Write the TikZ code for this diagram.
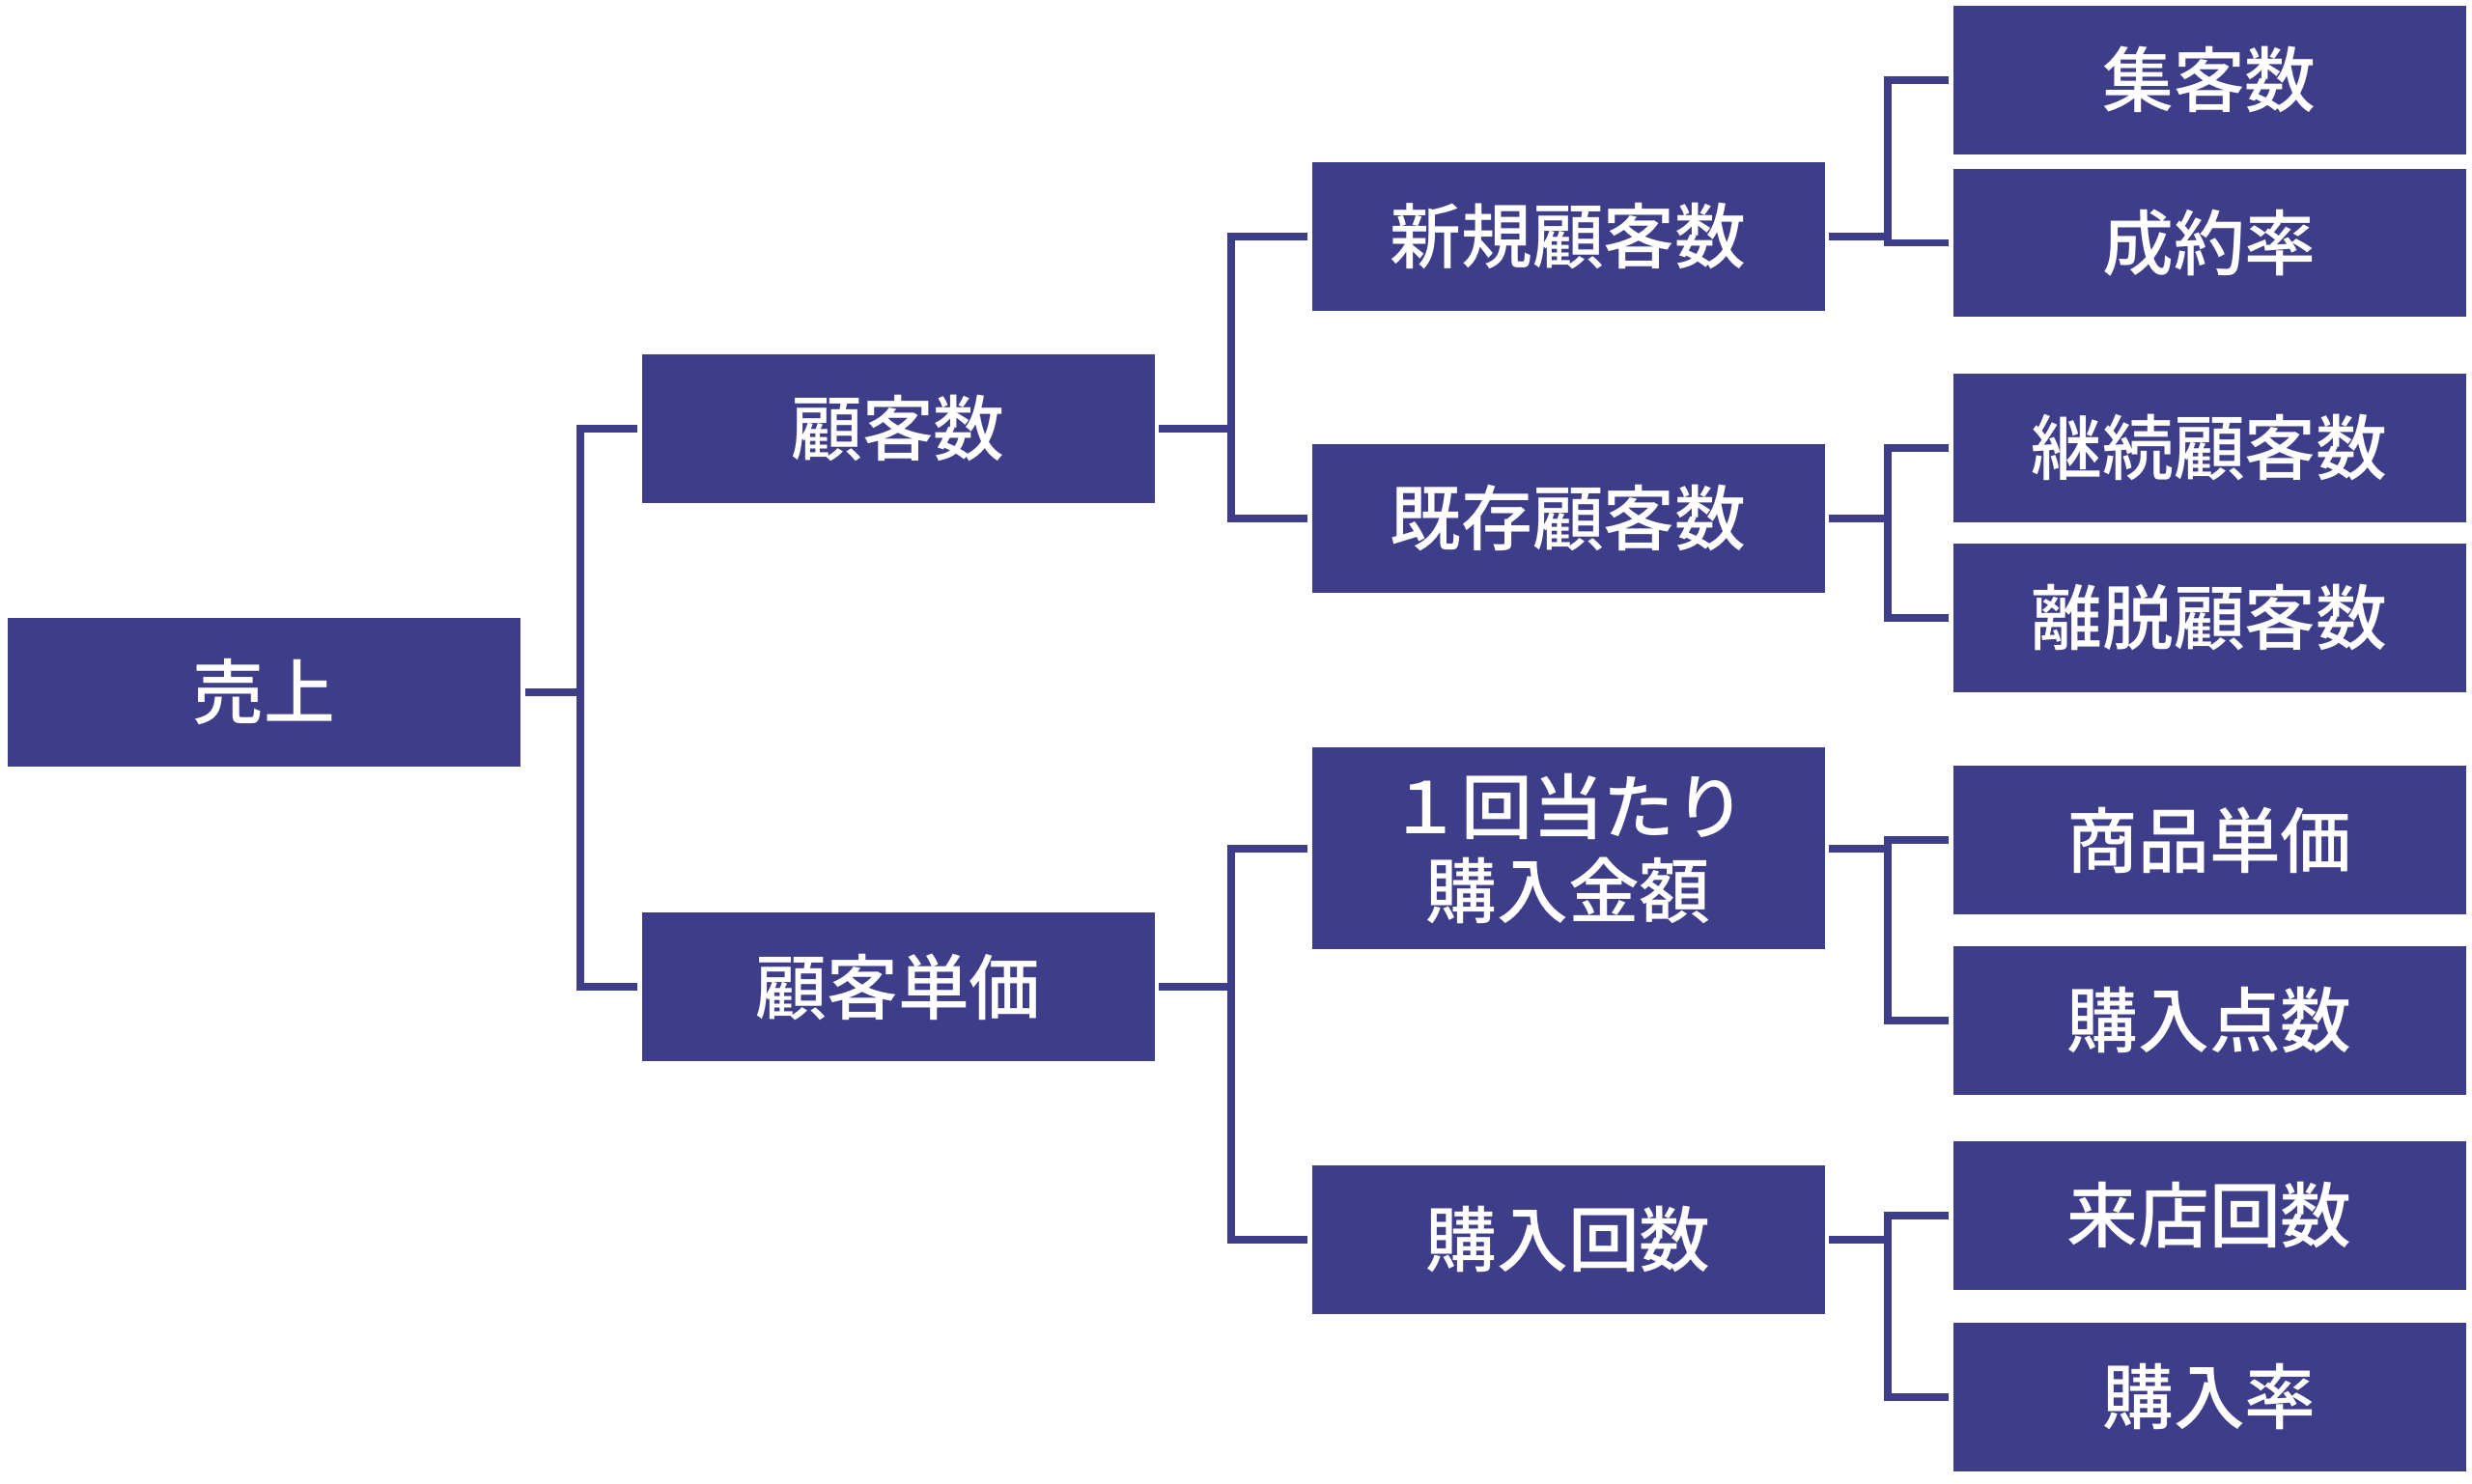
\documentclass[tikz,border=0pt]{standalone}
\usepackage{fontspec}
\newfontfamily\jpfont{Noto Sans CJK JP Medium}
\usetikzlibrary{positioning}
\usepackage{xcolor}
\definecolor{treeblue}{RGB}{62,61,138}

\begin{document}
\begin{tikzpicture}
\tikzset{
    kpibox/.style={rectangle, fill=treeblue, text=white, minimum width=5.31cm, minimum height=1.535cm, inner sep=0pt, align=center, font=\jpfont\fontsize{21}{24.6}\selectfont},
    branch/.style={draw=treeblue, line width=2.2pt, shorten <=0.04cm, shorten >=0.04cm}
}
\useasboundingbox (0,0) rectangle (25.6,15.37);

% level 1 and 2
\node[kpibox] (uriage) at (2.735,8.20) {売上};
\node[kpibox] (kokyakusu) at (9.30,10.93) {顧客数};
\node[kpibox] (tanka) at (9.30,5.15) {顧客単価};

% level 3
\node[kpibox] (shinki) at (16.24,12.92) {新規顧客数};
\node[kpibox] (kizon) at (16.24,10.00) {既存顧客数};
\node[kpibox, minimum height=2.09cm] (kingaku) at (16.24,6.58) {１回当たり\\購入金額};
\node[kpibox] (kaisu) at (16.24,2.53) {購入回数};

% level 4
\node[kpibox] (shukyaku) at (22.88,14.54) {集客数};
\node[kpibox] (seiyaku) at (22.88,12.855) {成約率};
\node[kpibox] (keizoku) at (22.88,10.73) {継続顧客数};
\node[kpibox] (ridatsu) at (22.88,8.97) {離脱顧客数};
\node[kpibox] (shohin) at (22.88,6.67) {商品単価};
\node[kpibox] (tensu) at (22.88,4.80) {購入点数};
\node[kpibox] (raiten) at (22.88,2.78) {来店回数};
\node[kpibox] (konyuritsu) at (22.88,0.90) {購入率};

% joints of the brackets
\coordinate (j1) at (6.01,0);
\coordinate (j2) at (12.75,0);
\coordinate (j3) at (19.55,0);

\draw[branch] (uriage.east) -- (uriage.east -| j1) |- (kokyakusu.west);
\draw[branch] (uriage.east) -- (uriage.east -| j1) |- (tanka.west);

\draw[branch] (kokyakusu.east) -- (kokyakusu.east -| j2) |- (shinki.west);
\draw[branch] (kokyakusu.east) -- (kokyakusu.east -| j2) |- (kizon.west);
\draw[branch] (tanka.east) -- (tanka.east -| j2) |- (kingaku.west);
\draw[branch] (tanka.east) -- (tanka.east -| j2) |- (kaisu.west);

\draw[branch] (shinki.east) -- (shinki.east -| j3) |- (shukyaku.west);
\draw[branch] (shinki.east) -- (shinki.east -| j3) |- (seiyaku.west);
\draw[branch] (kizon.east) -- (kizon.east -| j3) |- (keizoku.west);
\draw[branch] (kizon.east) -- (kizon.east -| j3) |- (ridatsu.west);
\draw[branch] (kingaku.east) -- (kingaku.east -| j3) |- (shohin.west);
\draw[branch] (kingaku.east) -- (kingaku.east -| j3) |- (tensu.west);
\draw[branch] (kaisu.east) -- (kaisu.east -| j3) |- (raiten.west);
\draw[branch] (kaisu.east) -- (kaisu.east -| j3) |- (konyuritsu.west);

\end{tikzpicture}
\end{document}
